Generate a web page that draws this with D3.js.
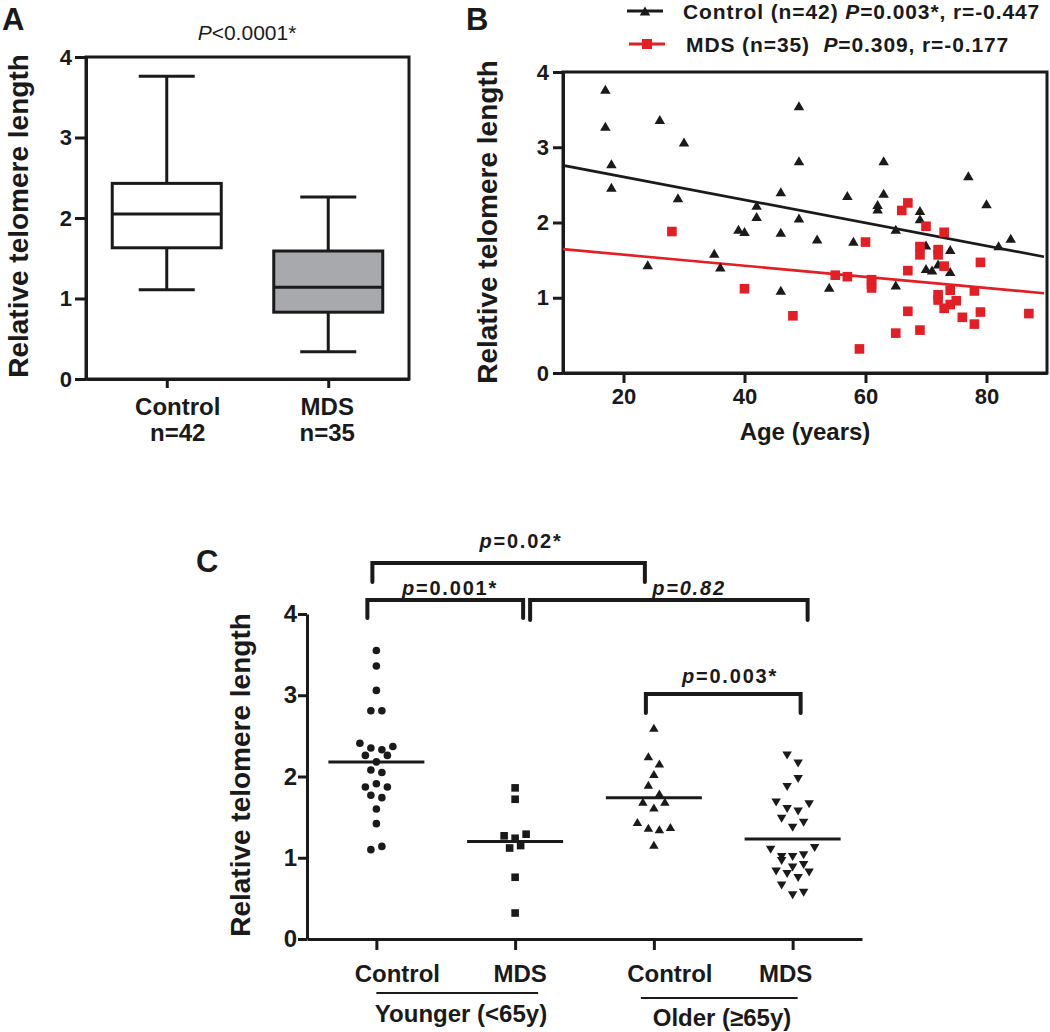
<!DOCTYPE html>
<html><head><meta charset="utf-8">
<script src="https://cdn.jsdelivr.net/npm/d3@7"></script>
<style>
body{margin:0;background:#fff}
svg{display:block;font-family:"Liberation Sans",Arial,Helvetica,sans-serif}
text{white-space:pre}
</style></head><body>
<svg id="c" width="1050" height="1032"></svg>
<script>
// ---------- Panel A data ----------
const boxCategories = ["Control", "MDS"];
const boxN = ["n=42", "n=35"];
const boxMin = [1.11, 0.34];
const boxQ1 = [1.63, 0.83];
const boxMedian = [2.05, 1.14];
const boxQ3 = [2.43, 1.59];
const boxMax = [3.76, 2.26];
const yTickValues = [0, 1, 2, 3, 4];

// ---------- Panel B data ----------
const controlAge = [17,17,18,18,26,30,24,29,35,36,39,40,42,42,46,46,46,49,49,49,52,54,57,58,62,62,63,63,65,65,69,69,70,70,71,72,74,74,77,80,82,84];
const controlRTL = [3.77,3.28,2.78,2.47,3.37,3.07,1.44,2.33,1.59,1.41,1.91,1.88,2.23,2.08,2.41,1.87,1.10,3.55,2.82,2.06,1.78,1.14,2.36,1.75,2.24,2.18,2.82,2.39,1.91,1.17,2.16,2.05,1.70,1.39,1.37,1.45,1.64,1.35,2.62,2.25,1.69,1.79];
const mdsAge = [28,40,48,55,57,59,60,61,61,61,65,66,67,67,67,69,69,69,70,72,72,72,72,73,73,73,74,74,75,76,78,78,79,79,87];
const mdsRTL = [1.88,1.12,0.76,1.30,1.28,0.32,1.74,1.24,1.18,1.13,0.53,2.16,2.26,1.36,0.82,1.68,1.57,0.57,1.95,1.64,1.57,1.04,0.97,1.87,1.42,0.86,1.10,0.91,0.96,0.74,1.09,0.65,1.47,0.81,0.79];
const ageTicks = [20, 40, 60, 80];
const fitNames = ["Control", "MDS"];
const fitValueAt10 = [2.759, 1.646];
const fitSlope = [-0.01527, -0.00737];
const fitAgeRange = [10, 89.5];
const legendLabels = [
  [["Control (n=42) "], ["P", true], ["=0.003*, r=-0.447"]],
  [["MDS (n=35)  "], ["P", true], ["=0.309, r=-0.177"]]
];

// ---------- Panel C data ----------
const cCategories = ["Control", "MDS", "Control ", "MDS "];
const youngControl = [3.55,3.36,3.06,2.81,2.81,2.41,2.35,2.33,2.37,2.26,2.18,2.26,2.08,2.05,1.87,1.91,1.87,1.77,1.74,1.60,1.42,1.10,1.14];
const youngMDS = [1.86,1.72,1.27,1.24,1.29,1.12,1.15,0.76,0.32];
const oldControl = [2.60,2.25,2.16,2.03,1.90,1.79,1.69,1.62,1.69,1.44,1.37,1.35,1.38,1.16];
const oldMDS = [2.26,2.16,1.87,1.97,1.68,1.60,1.57,1.66,1.48,1.37,1.43,1.10,1.01,1.01,1.03,1.12,0.96,0.88,0.91,0.83,0.80,0.75,0.82,0.66,0.54,0.57];
const groupCenterLine = [2.18, 1.20, 1.74, 1.23];
const groupNames = ["Younger (<65y)", "Older (\u226565y)"];
const comparisons = [
  {from: 0, to: 2, label: [["p", true], ["=0.02*"]]},
  {from: 0, to: 1, label: [["p", true], ["=0.001*"]]},
  {from: 1, to: 3, label: [["p=0.82", true]]},
  {from: 2, to: 3, label: [["p", true], ["=0.003*"]]}
];

// ---------- helpers ----------
const INK = "#1a1a1a";
const RED = "#e31e24";
const svg = d3.select("#c");
const intFmt = d3.format("d");

function rich(parent, x, y, parts, o = {}) {
  const t = parent.append("text").attr("x", x).attr("y", y)
    .attr("font-size", o.size || 20).attr("font-weight", o.weight || "bold")
    .attr("text-anchor", o.anchor || "start").attr("fill", o.fill || INK);
  if (o.ls) t.attr("letter-spacing", o.ls);
  if (o.transform) t.attr("transform", o.transform);
  parts.forEach(p => {
    const s = t.append("tspan").text(p[0]);
    if (p[1]) s.attr("font-style", "italic");
  });
  return t;
}
function triUp(cx, cy, w, h) {
  return `M${cx},${cy - h/2}L${cx + w/2},${cy + h/2}L${cx - w/2},${cy + h/2}Z`;
}
function triDown(cx, cy, w, h) {
  return `M${cx},${cy + h/2}L${cx + w/2},${cy - h/2}L${cx - w/2},${cy - h/2}Z`;
}
function styleAxis(g, size, width) {
  g.selectAll("path.domain").attr("stroke", INK).attr("stroke-width", width);
  g.selectAll(".tick line").attr("stroke", INK).attr("stroke-width", width);
  g.selectAll(".tick text").attr("fill", INK).attr("font-size", size).attr("font-weight", "bold")
    .attr("font-family", '"Liberation Sans", Arial, sans-serif');
}
function yTitle(x, y) {
  svg.append("text").attr("transform", `translate(${x},${y}) rotate(-90)`)
    .attr("text-anchor", "middle").attr("font-size", 28).attr("font-weight", "bold")
    .attr("fill", INK).text("Relative telomere length");
}

// ================= Panel A =================
{
  const g = svg.append("g");
  const x = d3.scalePoint().domain(boxCategories).range([86, 409]).padding(0.5);
  const y = d3.scaleLinear().domain([0, 4]).range([379, 57]);

  g.append("rect").attr("x", 86).attr("y", y(4)).attr("width", 323).attr("height", y(0) - y(4))
    .attr("fill", "none").attr("stroke", INK).attr("stroke-width", 3);

  const ya = g.append("g").attr("transform", "translate(86,0)")
    .call(d3.axisLeft(y).tickValues(yTickValues).tickFormat(intFmt).tickSize(11).tickPadding(3).tickSizeOuter(0));
  styleAxis(ya, 22, 3);
  const xa = g.append("g").attr("transform", `translate(0,${y(0)})`)
    .call(d3.axisBottom(x).tickSize(9).tickFormat("").tickSizeOuter(0));
  styleAxis(xa, 22, 3);

  boxCategories.forEach((c, i) => {
    const cx = x(c);
    const fill = i === 0 ? "#ffffff" : "#a7a9ac";
    g.append("line").attr("x1", cx).attr("x2", cx).attr("y1", y(boxMax[i])).attr("y2", y(boxQ3[i]))
      .attr("stroke", INK).attr("stroke-width", 3);
    g.append("line").attr("x1", cx).attr("x2", cx).attr("y1", y(boxQ1[i])).attr("y2", y(boxMin[i]))
      .attr("stroke", INK).attr("stroke-width", 3);
    [boxMax[i], boxMin[i]].forEach(v => g.append("line").attr("x1", cx - 28).attr("x2", cx + 28)
      .attr("y1", y(v)).attr("y2", y(v)).attr("stroke", INK).attr("stroke-width", 3));
    g.append("rect").attr("x", cx - 54.5).attr("width", 109).attr("y", y(boxQ3[i]))
      .attr("height", y(boxQ1[i]) - y(boxQ3[i])).attr("fill", fill)
      .attr("stroke", INK).attr("stroke-width", 3);
    g.append("line").attr("x1", cx - 54.5).attr("x2", cx + 54.5).attr("y1", y(boxMedian[i])).attr("y2", y(boxMedian[i]))
      .attr("stroke", INK).attr("stroke-width", 3);
    const lx = cx + (i === 0 ? 11 : -1);
    rich(g, lx, 415, [[c]], {size: 24, anchor: "middle"});
    rich(g, lx, 441, [[boxN[i]]], {size: 24, anchor: "middle"});
  });

  rich(g, 247, 40, [["P", true], ["<0.0001*"]], {size: 21, weight: "normal", anchor: "middle"});
  rich(g, 2, 30, [["A"]], {size: 31});
  yTitle(28, 216);
}

// ================= Panel B =================
{
  const g = svg.append("g");
  const x = d3.scaleLinear().domain([10, 90]).range([563, 1047]);
  const y = d3.scaleLinear().domain([0, 4]).range([373, 72]);

  g.append("rect").attr("x", x(10)).attr("y", y(4)).attr("width", x(90) - x(10)).attr("height", y(0) - y(4))
    .attr("fill", "none").attr("stroke", INK).attr("stroke-width", 3);
  const ya = g.append("g").attr("transform", `translate(${x(10)},0)`)
    .call(d3.axisLeft(y).tickValues(yTickValues).tickFormat(intFmt).tickSize(10).tickPadding(4).tickSizeOuter(0));
  styleAxis(ya, 22, 3);
  const xa = g.append("g").attr("transform", `translate(0,${y(0)})`)
    .call(d3.axisBottom(x).tickValues(ageTicks).tickFormat(intFmt).tickSize(10).tickPadding(5).tickSizeOuter(0));
  styleAxis(xa, 22, 3);

  // regression lines
  fitNames.forEach((n, i) => {
    const f = a => fitValueAt10[i] + fitSlope[i] * (a - 10);
    g.append("line").attr("x1", x(fitAgeRange[0])).attr("y1", y(f(fitAgeRange[0])))
      .attr("x2", x(fitAgeRange[1])).attr("y2", y(f(fitAgeRange[1])))
      .attr("stroke", i === 0 ? INK : RED).attr("stroke-width", 2.6);
  });

  controlAge.forEach((a, i) => {
    g.append("path").attr("d", triUp(x(a), y(controlRTL[i]), 10.5, 9)).attr("fill", INK);
  });
  mdsAge.forEach((a, i) => {
    g.append("rect").attr("x", x(a) - 4.8).attr("y", y(mdsRTL[i]) - 4.8)
      .attr("width", 9.6).attr("height", 9.6).attr("fill", RED);
  });

  // legend
  const leg = [[627, 663, 11, 683], [629, 665, 44, 686]];
  legendLabels.forEach((parts, i) => {
    const [x1, x2, ly, tx] = leg[i];
    const col = i === 0 ? INK : RED;
    g.append("line").attr("x1", x1).attr("x2", x2).attr("y1", ly).attr("y2", ly)
      .attr("stroke", col).attr("stroke-width", 3);
    const mx = (x1 + x2) / 2;
    if (i === 0) g.append("path").attr("d", triUp(mx, ly, 10.5, 9)).attr("fill", col);
    else g.append("rect").attr("x", mx - 5).attr("y", ly - 5).attr("width", 10).attr("height", 10).attr("fill", col);
    rich(g, tx, ly + 7.5, parts, {size: 21, ls: 0.9});
  });

  rich(g, 805, 440, [["Age (years)"]], {size: 24, anchor: "middle"});
  rich(g, 466, 30, [["B"]], {size: 31});
  yTitle(497, 222);
}

// ================= Panel C =================
{
  const g = svg.append("g");
  const x = d3.scalePoint().domain(cCategories).range([307, 862]).padding(0.5);
  const y = d3.scaleLinear().domain([0, 4]).range([939, 614]);

  const ya = g.append("g").attr("transform", "translate(307,0)")
    .call(d3.axisLeft(y).tickValues(yTickValues).tickFormat(intFmt).tickSize(9).tickPadding(1).tickSizeOuter(0));
  styleAxis(ya, 24, 3);
  const xa = g.append("g").attr("transform", `translate(0,${y(0)})`)
    .call(d3.axisBottom(x).tickSize(11).tickFormat("").tickSizeOuter(0));
  styleAxis(xa, 24, 3);

  function swarm(vals, step) {
    const idx = d3.range(vals.length).sort((a, b) => vals[b] - vals[a] || a - b);
    const off = new Array(vals.length).fill(0);
    let row = [];
    const flush = () => {
      row.sort((a, b) => a - b);
      row.forEach((k, i) => off[k] = (i - (row.length - 1) / 2) * step);
    };
    idx.forEach(k => {
      if (row.length && vals[row[0]] - vals[k] >= 0.125) { flush(); row = []; }
      row.push(k);
    });
    flush();
    return off;
  }

  const groups = [youngControl, youngMDS, oldControl, oldMDS];
  groups.forEach((vals, gi) => {
    const cx = x(cCategories[gi]);
    const off = swarm(vals, 11);
    vals.forEach((v, i) => {
      const px = cx + off[i], py = y(v);
      if (gi === 0) g.append("circle").attr("cx", px).attr("cy", py).attr("r", 3.8).attr("fill", INK);
      else if (gi === 1) g.append("rect").attr("x", px - 3.8).attr("y", py - 3.8).attr("width", 7.6).attr("height", 7.6).attr("fill", INK);
      else if (gi === 2) g.append("path").attr("d", triUp(px, py, 9.5, 8)).attr("fill", INK);
      else g.append("path").attr("d", triDown(px, py, 9.5, 8)).attr("fill", INK);
    });
    g.append("line").attr("x1", cx - 48).attr("x2", cx + 48)
      .attr("y1", y(groupCenterLine[gi])).attr("y2", y(groupCenterLine[gi]))
      .attr("stroke", INK).attr("stroke-width", 3);
  });

  // category labels
  const labelDx = [21, 5, 16, -7];
  cCategories.forEach((c, i) => {
    rich(g, x(c) + labelDx[i], 982, [[c.trim()]], {size: 24, anchor: "middle"});
  });
  // group underlines and names
  const gl = [
    {x1: x(cCategories[0]), x2: x(cCategories[1]) + 23, ly: 993, tx: 461, ty: 1022},
    {x1: x(cCategories[2]) - 13, x2: x(cCategories[3]) + 5, ly: 998, tx: 722, ty: 1026}
  ];
  groupNames.forEach((n, i) => {
    const L = gl[i];
    g.append("line").attr("x1", L.x1).attr("x2", L.x2).attr("y1", L.ly).attr("y2", L.ly)
      .attr("stroke", INK).attr("stroke-width", 2);
    rich(g, L.tx, L.ty, [[n]], {size: 24, anchor: "middle"});
  });

  // significance brackets
  const layout = [
    {d1: -4, d2: -9, top: 563, bot: 582, tx: 521, ty: 548},
    {d1: -9, d2: 8, top: 600, bot: 618, tx: 450, ty: 595},
    {d1: 15, d2: 15, top: 600, bot: 620, tx: 689, ty: 595},
    {d1: -8, d2: 8, top: 694, bot: 713, tx: 730, ty: 683}
  ];
  comparisons.forEach((c, i) => {
    const L = layout[i];
    const x1 = x(cCategories[c.from]) + L.d1, x2 = x(cCategories[c.to]) + L.d2;
    g.append("path").attr("d", `M${x1},${L.bot}V${L.top}H${x2}V${L.bot}`)
      .attr("fill", "none").attr("stroke", INK).attr("stroke-width", 4)
      .attr("stroke-linecap", "round").attr("stroke-linejoin", "miter");
    rich(g, L.tx, L.ty, c.label, {size: 20, anchor: "middle", ls: 1.8});
  });

  rich(g, 196, 572, [["C"]], {size: 31});
  yTitle(250, 775);
}
</script>
</body></html>
